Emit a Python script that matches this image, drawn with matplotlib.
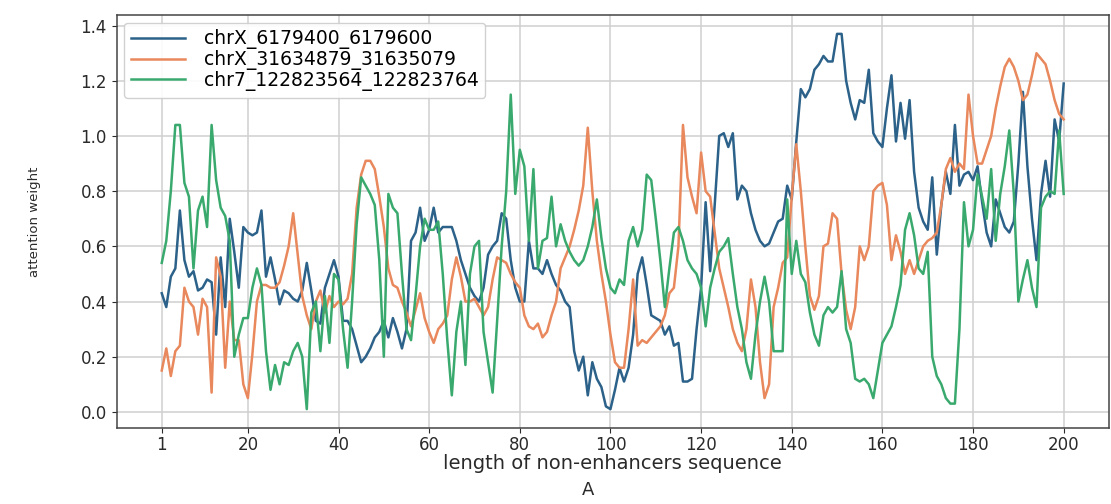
import numpy as np
import matplotlib
matplotlib.use("Agg")
import matplotlib.pyplot as plt

# ── data ──────────────────────────────────────────────────────────────────────
positions = list(range(1, 201))
series_names = [
    "chrX_6179400_6179600",
    "chrX_31634879_31635079",
    "chr7_122823564_122823764",
]

chrx_6179400 = [
    0.43, 0.38, 0.49, 0.52, 0.73, 0.55, 0.49, 0.51, 0.44, 0.45,
    0.48, 0.47, 0.28, 0.56, 0.38, 0.70, 0.58, 0.45, 0.67, 0.65,
    0.64, 0.65, 0.73, 0.49, 0.56, 0.48, 0.39, 0.44, 0.43, 0.41,
    0.40, 0.44, 0.54, 0.44, 0.33, 0.32, 0.45, 0.50, 0.55, 0.49,
    0.33, 0.33, 0.30, 0.24, 0.18, 0.20, 0.23, 0.27, 0.29, 0.33,
    0.27, 0.34, 0.29, 0.23, 0.30, 0.62, 0.65, 0.74, 0.62, 0.66,
    0.74, 0.65, 0.67, 0.67, 0.67, 0.62, 0.55, 0.50, 0.45, 0.42,
    0.40, 0.45, 0.57, 0.60, 0.62, 0.72, 0.70, 0.55, 0.45, 0.40,
    0.40, 0.62, 0.52, 0.52, 0.50, 0.55, 0.50, 0.46, 0.44, 0.40,
    0.38, 0.22, 0.15, 0.20, 0.06, 0.18, 0.12, 0.09, 0.02, 0.01,
    0.08, 0.16, 0.11, 0.16, 0.28, 0.50, 0.56, 0.46, 0.35, 0.34,
    0.33, 0.28, 0.31, 0.24, 0.25, 0.11, 0.11, 0.12, 0.30, 0.45,
    0.76, 0.51, 0.75, 1.00, 1.01, 0.96, 1.01, 0.77, 0.82, 0.80,
    0.72, 0.66, 0.62, 0.60, 0.61, 0.65, 0.69, 0.70, 0.82, 0.77,
    0.98, 1.17, 1.14, 1.17, 1.24, 1.26, 1.29, 1.27, 1.27, 1.37,
    1.37, 1.20, 1.12, 1.06, 1.13, 1.12, 1.24, 1.01, 0.98, 0.96,
    1.10, 1.22, 0.98, 1.12, 0.99, 1.13, 0.87, 0.74, 0.69, 0.66,
    0.85, 0.57, 0.75, 0.87, 0.79, 1.04, 0.82, 0.86, 0.87, 0.84,
    0.89, 0.76, 0.65, 0.60, 0.77, 0.72, 0.67, 0.65, 0.69, 0.90,
    1.16, 0.89, 0.70, 0.55, 0.79, 0.91, 0.78, 1.06, 0.98, 1.19,
]

chrx_31634879 = [
    0.15, 0.23, 0.13, 0.22, 0.24, 0.45, 0.40, 0.38, 0.28, 0.41,
    0.38, 0.07, 0.56, 0.49, 0.16, 0.40, 0.26, 0.26, 0.10, 0.05,
    0.21, 0.40, 0.46, 0.46, 0.45, 0.45, 0.47, 0.53, 0.60, 0.72,
    0.57, 0.42, 0.35, 0.30, 0.40, 0.44, 0.36, 0.42, 0.38, 0.40,
    0.39, 0.41, 0.50, 0.74, 0.86, 0.91, 0.91, 0.88, 0.78, 0.67,
    0.52, 0.46, 0.45, 0.40, 0.36, 0.31, 0.37, 0.43, 0.34, 0.29,
    0.25, 0.30, 0.32, 0.35, 0.48, 0.56, 0.49, 0.40, 0.40, 0.41,
    0.38, 0.35, 0.38, 0.48, 0.56, 0.55, 0.54, 0.50, 0.47, 0.45,
    0.35, 0.31, 0.30, 0.32, 0.27, 0.29, 0.35, 0.40, 0.52, 0.56,
    0.60, 0.66, 0.73, 0.82, 1.03, 0.80, 0.62, 0.50, 0.40, 0.28,
    0.18, 0.16, 0.16, 0.30, 0.48, 0.24, 0.26, 0.25, 0.27, 0.29,
    0.31, 0.35, 0.43, 0.45, 0.60, 1.04, 0.85, 0.78, 0.72, 0.94,
    0.80, 0.78, 0.65, 0.52, 0.45, 0.38, 0.30, 0.25, 0.22, 0.30,
    0.48, 0.38, 0.18, 0.05, 0.10, 0.38, 0.45, 0.54, 0.56, 0.78,
    0.97, 0.80, 0.60, 0.42, 0.37, 0.42, 0.60, 0.61, 0.72, 0.70,
    0.50, 0.37, 0.30, 0.38, 0.60, 0.55, 0.60, 0.80, 0.82, 0.83,
    0.75, 0.55, 0.64, 0.58, 0.50, 0.55, 0.50, 0.55, 0.60, 0.62,
    0.63, 0.65, 0.75, 0.88, 0.92, 0.87, 0.90, 0.88, 1.15, 1.00,
    0.90, 0.90, 0.95, 1.00, 1.10, 1.18, 1.25, 1.28, 1.25, 1.20,
    1.13, 1.15, 1.22, 1.30, 1.28, 1.26, 1.20, 1.13, 1.08, 1.06,
]

chr7_122823564 = [
    0.54, 0.62, 0.80, 1.04, 1.04, 0.83, 0.78, 0.52, 0.73, 0.78,
    0.67, 1.04, 0.84, 0.74, 0.71, 0.62, 0.20, 0.28, 0.34, 0.34,
    0.45, 0.52, 0.46, 0.22, 0.08, 0.17, 0.10, 0.18, 0.17, 0.22,
    0.25, 0.20, 0.01, 0.36, 0.40, 0.22, 0.42, 0.25, 0.50, 0.48,
    0.30, 0.16, 0.40, 0.68, 0.85, 0.82, 0.79, 0.75, 0.55, 0.20,
    0.79, 0.74, 0.72, 0.50, 0.30, 0.26, 0.42, 0.60, 0.70, 0.66,
    0.66, 0.69, 0.50, 0.26, 0.06, 0.29, 0.40, 0.17, 0.50, 0.60,
    0.62, 0.29, 0.18, 0.07, 0.33, 0.60, 0.80, 1.15, 0.79, 0.95,
    0.89, 0.62, 0.88, 0.52, 0.62, 0.63, 0.78, 0.60, 0.68, 0.62,
    0.58, 0.55, 0.53, 0.55, 0.60, 0.67, 0.77, 0.63, 0.52, 0.45,
    0.43, 0.48, 0.46, 0.62, 0.67, 0.60, 0.66, 0.86, 0.84, 0.70,
    0.55, 0.38, 0.52, 0.65, 0.67, 0.62, 0.55, 0.52, 0.50, 0.45,
    0.31, 0.45, 0.52, 0.58, 0.60, 0.63, 0.50, 0.38, 0.30, 0.18,
    0.12, 0.28, 0.40, 0.49, 0.40, 0.22, 0.22, 0.22, 0.77, 0.50,
    0.62, 0.50, 0.47, 0.36, 0.28, 0.24, 0.35, 0.38, 0.36, 0.38,
    0.51, 0.30, 0.25, 0.12, 0.11, 0.12, 0.10, 0.05, 0.15, 0.25,
    0.28, 0.31, 0.38, 0.46, 0.66, 0.72, 0.64, 0.52, 0.50, 0.58,
    0.20, 0.13, 0.10, 0.05, 0.03, 0.03, 0.30, 0.76, 0.60, 0.66,
    0.86, 0.78, 0.70, 0.88, 0.62, 0.79, 0.89, 1.02, 0.79, 0.40,
    0.48, 0.55, 0.45, 0.38, 0.74, 0.78, 0.80, 0.79, 1.02, 0.79,
]

x_ticks = [1, 20, 40, 60, 80, 100, 120, 140, 160, 180, 200]
colors = ["#2c6289", "#e8885c", "#3aa96e"]

# ── figure ────────────────────────────────────────────────────────────────────
fig = plt.figure(figsize=(11.11, 5.04), dpi=100)
ax = fig.add_axes([0.105, 0.151, 0.893, 0.819])

for values, name, color in zip(
    [chrx_6179400, chrx_31634879, chr7_122823564], series_names, colors
):
    ax.plot(positions, values, color=color, linewidth=1.8, label=name)

ax.grid(True, color="#d0d0d0", linewidth=1.1)
ax.set_axisbelow(True)
for sp in ax.spines.values():
    sp.set_color("#444444")
    sp.set_linewidth(1.1)

ax.set_xticks(x_ticks)
ax.set_yticks(np.arange(0, 1.41, 0.2))
ax.yaxis.set_major_formatter(matplotlib.ticker.FormatStrFormatter("%.1f"))
ax.tick_params(labelsize=12, colors="#2a2a2a")
ax.tick_params(axis="x", pad=2)

ax.set_xlabel("length of non-enhancers sequence", fontsize=14, color="#2a2a2a", labelpad=0)
ax.set_ylabel("attention weight", fontsize=9.5, color="#2a2a2a")
ax.yaxis.set_label_coords(-0.076, 0.5)

ax.legend(loc="upper left", fontsize=13.5, handlelength=2.9, handletextpad=1.0,
          labelspacing=0.05, borderpad=0.35, framealpha=0.9,
          edgecolor="#cccccc", borderaxespad=0.4)

fig.text(0.529, 0.027, "A", ha="center", va="center", fontsize=13, color="#2a2a2a")

fig.savefig("out.png", dpi=100)
